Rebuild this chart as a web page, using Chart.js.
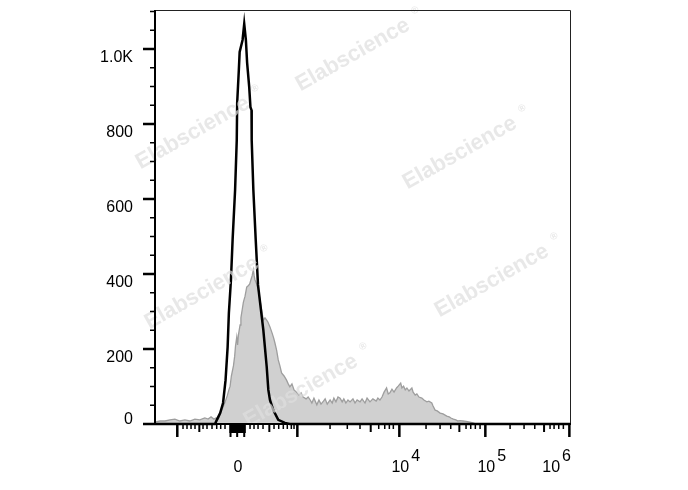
<!DOCTYPE html>
<html lang="en">
<head>
    <meta charset="UTF-8">
    <title>Histogram</title>
    <script src="https://cdn.jsdelivr.net/npm/chart.js@4"></script>
    <style>
        * {
            margin: 0;
            padding: 0;
        }

        body {
            background: #ffffff;
        }
    </style>
</head>
<body>
    <canvas id="histCanvas" width="688" height="490"></canvas>
<script>
    // x is display channel (0 - 1000, biexponential display), y is count
    const blackX = [0, 144.6, 149, 157, 164, 170, 175, 178, 183, 187, 193, 197, 198, 202, 204, 211, 215, 219, 222, 227, 230, 232.6, 233, 237, 242.7, 248.2, 261, 269.2, 273.1, 277, 285, 297, 313, 325, 1000]
    const blackY = [0, 0, 11, 29, 56, 117, 205, 296, 384, 491, 624, 757, 856, 944, 992, 1024, 1067, 1024, 963, 899, 845, 837, 757, 624, 491, 371, 251, 152, 91, 64, 37, 11, 3, 0, 0]

    const grayX = [0, 12, 24, 36, 48, 60, 72, 84, 96, 108, 120, 128, 135, 142, 147, 153, 159, 165, 169, 174,
        178, 181, 184, 189, 192, 194, 197, 199, 201, 205, 207, 210, 213, 217, 221, 224, 228, 231, 234, 237,
        239, 241, 245, 249, 253, 257, 261, 265, 269, 272, 277, 282, 286, 289, 293, 297, 301, 305, 311, 317,
        321, 325, 330, 335, 341, 347, 352, 357, 364, 369, 374, 378, 383, 390, 395, 400, 406, 410, 415, 422,
        427, 431, 436, 441, 446, 451, 455, 460, 465, 470, 477, 482, 487, 494, 499, 506, 511, 518, 525, 533,
        537, 542, 547, 552, 558, 562, 566, 571, 576, 582, 586, 592, 595, 599, 603, 607, 612, 619, 622, 627,
        631, 636, 643, 648, 655, 660, 667, 670, 675, 680, 687, 694, 703, 709, 713, 719, 725, 730, 735, 742,
        750, 759, 766, 774, 1000]
    const grayY = [5, 8, 8, 11, 13, 8, 11, 8, 13, 11, 16, 13, 19, 13, 16, 13, 32, 48, 59, 75,
        91, 101, 128, 155, 181, 208, 232, 211, 237, 264, 283, 304, 325, 341, 365, 368, 373, 384, 395, 411,
        395, 384, 373, 357, 331, 304, 277, 283, 277, 272, 259, 243, 229, 216, 197, 171, 155, 136, 128, 117,
        107, 99, 107, 91, 85, 77, 83, 72, 67, 72, 64, 56, 69, 51, 64, 53, 61, 67, 53, 64,
        56, 69, 59, 72, 69, 59, 67, 56, 64, 59, 67, 56, 64, 59, 67, 56, 69, 59, 67, 61,
        69, 64, 72, 85, 96, 80, 83, 93, 85, 96, 101, 109, 96, 101, 91, 96, 88, 96, 85, 77,
        80, 72, 69, 64, 59, 61, 56, 48, 37, 35, 29, 27, 21, 19, 16, 13, 11, 8, 9, 8,
        7, 5, 3, 0, 0]

    const yMajorTicks = [0, 200, 400, 600, 800, 1000]
    const yTickLabels = ['0', '200', '400', '600', '800', '1.0K']
    const yMinorTicks = [50, 100, 150, 250, 300, 350, 450, 500, 550, 650, 700, 750, 850, 900, 950, 1050, 1100]

    const xTicksMajor = [53.7, 343, 588.8, 796, 998.5]
    const xTicksMid = [106.8, 275.5, 519.8, 733.4, 937.5]
    const xTicksMinor = [67.5, 77.1, 86.8, 96.4, 115.7, 125.3, 137.4, 148.7, 158.3, 168.7,
        229, 238.6, 248.3, 260.3, 286.8, 298.1, 309.2, 318.8, 328.5, 335,
        421.8, 463.4, 494, 539.1, 553.6, 564.7, 574.3,
        653.1, 686.9, 712.6, 749.5, 760.8, 771.9, 783.3,
        855.6, 889.3, 915.1, 951.9, 961.6, 972.9, 984]
    const xTicksDense = [181, 183, 186, 188, 191, 193, 195, 198, 200, 203, 205, 207, 210, 212, 215, 217]
    const xTicksDenseTall = [182, 198, 215]

    const xLabelAt = [197.6, 588.8, 796, 998.5]
    const xLabelBase = ['0', '10', '10', '10']
    const xLabelExp = ['', '4', '5', '6']

    const watermarks = [[358, 52], [198, 130], [465, 150], [207, 290], [497, 278], [306, 388]]

    const font = '"Liberation Sans", Arial, sans-serif'

    function toPoints(xs, ys) {
        let pts = []
        for (let i = 0; i < xs.length; i++) {
            pts.push({ x: xs[i], y: ys[i] })
        }
        return pts
    }

    const axesPlugin = {
        id: 'flowAxes',
        afterDatasetsDraw(chart) {
            const ctx = chart.ctx
            ctx.save()
            ctx.font = 'bold 22px ' + font
            ctx.fillStyle = 'rgba(222, 222, 222, 0.7)'
            ctx.textAlign = 'center'
            ctx.textBaseline = 'middle'
            watermarks.forEach(function (w) {
                ctx.save()
                ctx.translate(w[0], w[1])
                ctx.rotate(-29.5 * Math.PI / 180)
                ctx.fillText('Elabscience', -6, 0)
                ctx.font = 'bold 10px ' + font
                ctx.fillText('®', 70, -8)
                ctx.restore()
            })
            ctx.restore()
        },
        afterDraw(chart) {
            const ctx = chart.ctx
            const area = chart.chartArea
            const xs = chart.scales.x
            const ys = chart.scales.y
            ctx.save()

            // frame
            ctx.strokeStyle = '#222222'
            ctx.lineWidth = 1
            ctx.beginPath()
            ctx.moveTo(area.left, area.top + 0.5)
            ctx.lineTo(area.right + 0.5, area.top + 0.5)
            ctx.lineTo(area.right + 0.5, area.bottom)
            ctx.stroke()

            ctx.strokeStyle = '#000000'
            ctx.lineWidth = 2
            ctx.beginPath()
            ctx.moveTo(area.left, area.top)
            ctx.lineTo(area.left, area.bottom)
            ctx.moveTo(area.left - 12, area.bottom)
            ctx.lineTo(area.right + 1, area.bottom)
            ctx.stroke()

            // y ticks
            ctx.lineWidth = 2.5
            ctx.beginPath()
            yMajorTicks.forEach(function (v) {
                const py = ys.getPixelForValue(v)
                ctx.moveTo(area.left - 12, py)
                ctx.lineTo(area.left, py)
            })
            ctx.stroke()
            ctx.lineWidth = 1.5
            ctx.beginPath()
            yMinorTicks.forEach(function (v) {
                const py = ys.getPixelForValue(v)
                ctx.moveTo(area.left - 5, py)
                ctx.lineTo(area.left, py)
            })
            ctx.stroke()

            // x ticks
            function drawTicks(list, len, width) {
                ctx.lineWidth = width
                ctx.beginPath()
                list.forEach(function (v) {
                    const px = xs.getPixelForValue(v)
                    ctx.moveTo(px, area.bottom)
                    ctx.lineTo(px, area.bottom + len)
                })
                ctx.stroke()
            }
            drawTicks(xTicksMinor, 5, 1.5)
            drawTicks(xTicksMid, 8, 2)
            drawTicks(xTicksDense, 9, 1.5)
            drawTicks(xTicksDenseTall, 13, 2)
            drawTicks(xTicksMajor, 13, 2.5)

            // y labels
            ctx.fillStyle = '#000000'
            ctx.font = '16px ' + font
            ctx.textAlign = 'right'
            ctx.textBaseline = 'alphabetic'
            yMajorTicks.forEach(function (v, i) {
                let py = ys.getPixelForValue(v) + 12.5
                if (py > area.bottom) py = area.bottom - 0.5
                ctx.fillText(yTickLabels[i], 133, py)
            })

            // x labels with exponents
            ctx.textAlign = 'left'
            xLabelAt.forEach(function (v, i) {
                const px = xs.getPixelForValue(v)
                const bw = ctx.measureText(xLabelBase[i]).width
                const ew = xLabelExp[i] ? ctx.measureText(xLabelExp[i]).width + 2 : 0
                let left = px - bw / 2 + 1
                if (left + bw + ew > area.right + 1) left = area.right + 1 - bw - ew
                ctx.fillText(xLabelBase[i], left, 472)
                if (xLabelExp[i]) ctx.fillText(xLabelExp[i], left + bw + 2, 461)
            })
            ctx.restore()
        }
    }

    window.onload = function () {
        const canvas = document.getElementById('histCanvas')
        new Chart(canvas, {
            type: 'line',
            data: {
                datasets: [
                    {
                        label: 'control',
                        data: toPoints(blackX, blackY),
                        borderColor: '#000000',
                        borderWidth: 2.5,
                        fill: false,
                        pointRadius: 0,
                        tension: 0,
                        order: 0,
                        clip: false,
                    },
                    {
                        label: 'stained',
                        data: toPoints(grayX, grayY),
                        borderColor: '#9e9e9e',
                        backgroundColor: '#d0d0d0',
                        borderWidth: 1.3,
                        fill: 'origin',
                        pointRadius: 0,
                        tension: 0,
                        order: 1,
                        clip: false,
                    }
                ]
            },
            options: {
                responsive: false,
                animation: false,
                devicePixelRatio: 1,
                layout: {
                    padding: { left: 155, top: 10, right: 118, bottom: 66 }
                },
                plugins: {
                    legend: { display: false },
                    tooltip: { enabled: false },
                },
                scales: {
                    x: { type: 'linear', min: 0, max: 1000, display: false },
                    y: { type: 'linear', min: 0, max: 1104, display: false },
                }
            },
            plugins: [axesPlugin]
        })
    }
</script>
</body>
</html>
